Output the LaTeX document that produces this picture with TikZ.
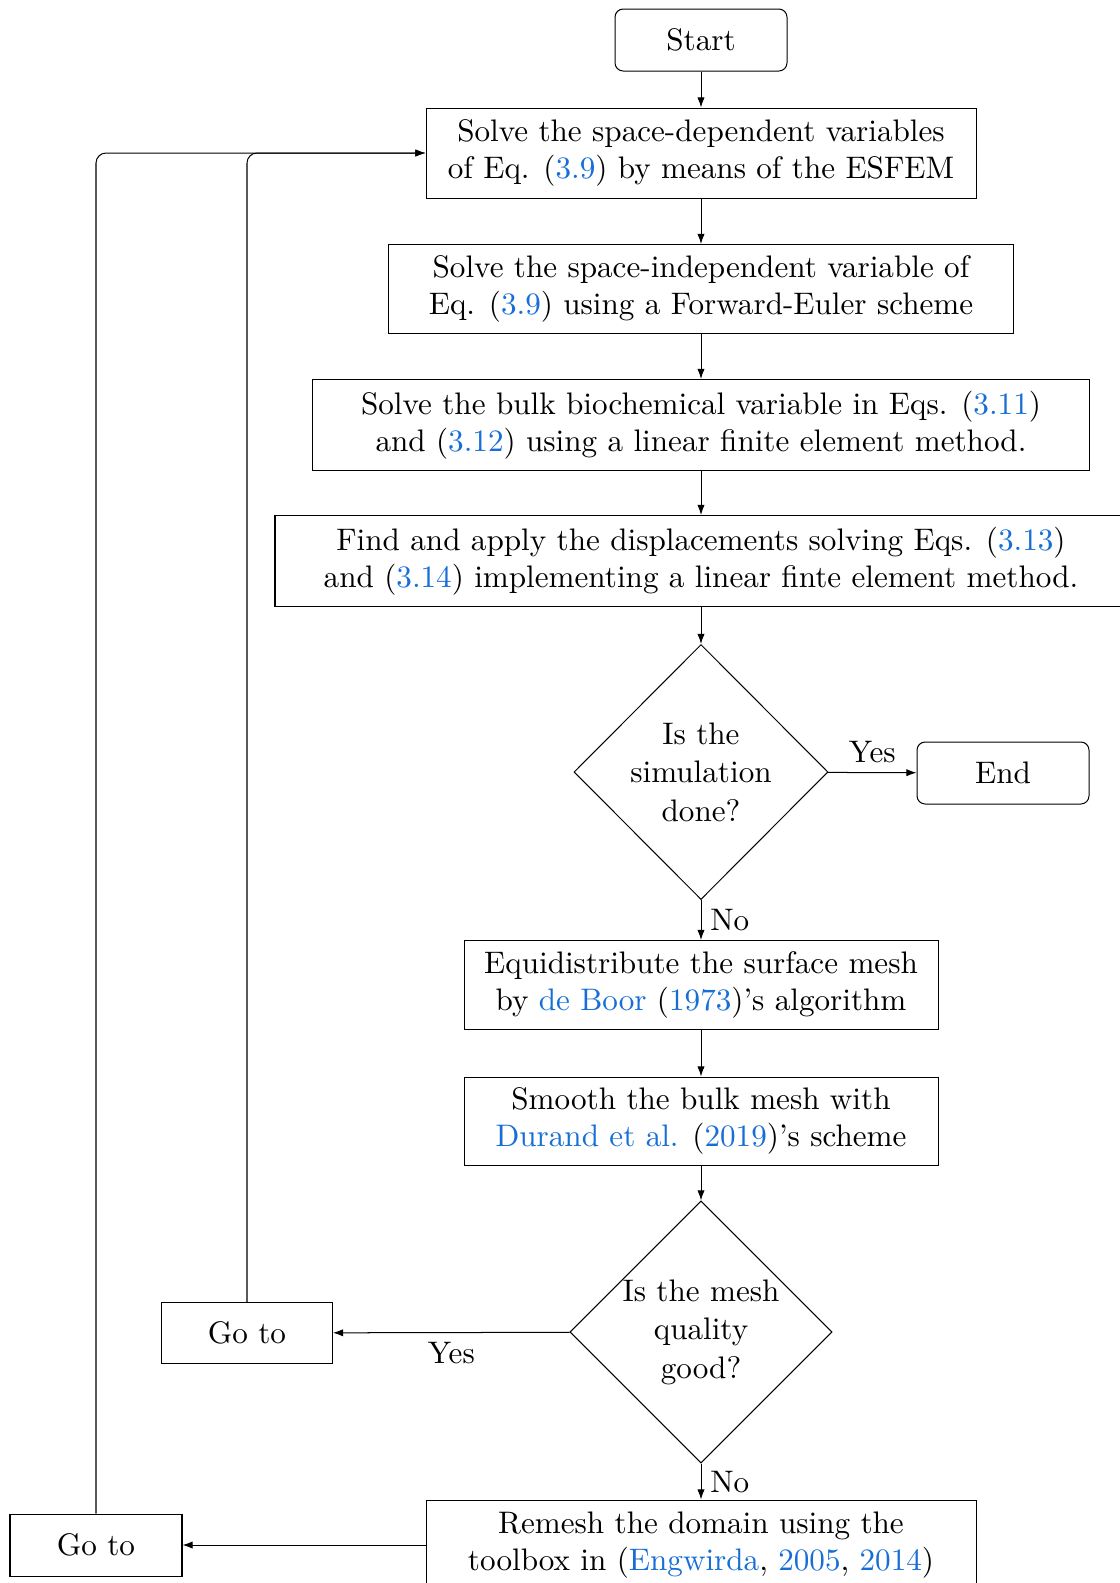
\documentclass[tikz,border=0pt]{standalone}
\usetikzlibrary{shapes.geometric,arrows.meta}
\definecolor{linkblue}{RGB}{22,110,214}
\newcommand{\lk}[1]{\textcolor{linkblue}{#1}}
\newcommand{\pxs}{0.3185pt}
\begin{document}
\begin{tikzpicture}[x=0.3185pt,y=-0.3185pt,
  every node/.style={font=\fontsize{9.92}{11.9}\selectfont, line width=0.32pt},
  box/.style={draw, align=center, inner sep=0pt},
  term/.style={draw, rounded corners=2.6pt, align=center, inner sep=0pt, minimum width=172*\pxs, minimum height=62*\pxs},
  dec/.style={draw, diamond, aspect=1, inner sep=0pt, align=center, font=\fontsize{9.92}{12.3}\selectfont},
  arr/.style={line width=0.32pt, -{Latex[length=3.2pt,width=2.3pt]}},
  lbl/.style={inner sep=2.2pt}]
\useasboundingbox (0,0) rectangle (1120,1583);
\clip (0,0) rectangle (1120,1583);
\node[term] (start) at (701,40) {Start};
\node[box, minimum width=550*\pxs, minimum height=90*\pxs] (b1) at (701,153)
  {Solve the space-dependent variables\\of Eq. (\lk{3.9}) by means of the ESFEM};
\node[box, minimum width=625*\pxs, minimum height=89*\pxs] (b2) at (701,289)
  {Solve the space-independent variable of\\Eq. (\lk{3.9}) using a Forward-Euler scheme};
\node[box, minimum width=777*\pxs, minimum height=91*\pxs] (b3) at (701,425)
  {Solve the bulk biochemical variable in Eqs. (\lk{3.11})\\and (\lk{3.12}) using a linear finite element method.};
\node[box, minimum width=852*\pxs, minimum height=91*\pxs] (b4) at (701,561)
  {Find and apply the displacements solving Eqs. (\lk{3.13})\\and (\lk{3.14}) implementing a linear finte element method.};
\node[dec, minimum width=254*\pxs, minimum height=255*\pxs] (d1) at (701,772)
  {Is the\\simulation\\done?};
\node[term] (end) at (1003,773) {End};
\node[box, minimum width=474*\pxs, minimum height=89*\pxs] (b5) at (701,985)
  {Equidistribute the surface mesh\\by \lk{de Boor} (\lk{1973})’s algorithm};
\node[box, minimum width=474*\pxs, minimum height=88*\pxs] (b6) at (701,1121)
  {Smooth the bulk mesh with\\\lk{Durand et al.} (\lk{2019})’s scheme};
\node[dec, minimum width=260*\pxs, minimum height=260*\pxs] (d2) at (701,1332)
  {Is the mesh\\quality\\good?};
\node[box, minimum width=171*\pxs, minimum height=61*\pxs] (g1) at (247,1333) {Go to};
\node[box, minimum width=550*\pxs, minimum height=90*\pxs] (b7) at (701,1545)
  {Remesh the domain using the\\toolbox in (\lk{Engwirda}, \lk{2005}, \lk{2014})};
\node[box, minimum width=172*\pxs, minimum height=62*\pxs] (g2) at (96,1545) {Go to};

\draw[arr] (start) -- (b1);
\draw[arr] (b1) -- (b2);
\draw[arr] (b2) -- (b3);
\draw[arr] (b3) -- (b4);
\draw[arr] (b4) -- (d1);
\draw[arr] (d1) -- node[lbl, above, yshift=0.6pt] {Yes} (end);
\draw[arr] (d1) -- node[lbl, right, xshift=0.6pt] {No} (b5);
\draw[arr] (b5) -- (b6);
\draw[arr] (b6) -- (d2);
\draw[arr] (d2) -- node[lbl, below, yshift=-0.6pt] {Yes} (g1);
\draw[arr] (d2) -- node[lbl, right, xshift=0.6pt] {No} (b7);
\draw[arr] (b7) -- (g2);
\draw[arr, rounded corners=3.2pt] (g1.north) |- (b1.west);
\draw[arr, rounded corners=3.2pt] (g2.north) |- (b1.west);
\end{tikzpicture}
\end{document}
